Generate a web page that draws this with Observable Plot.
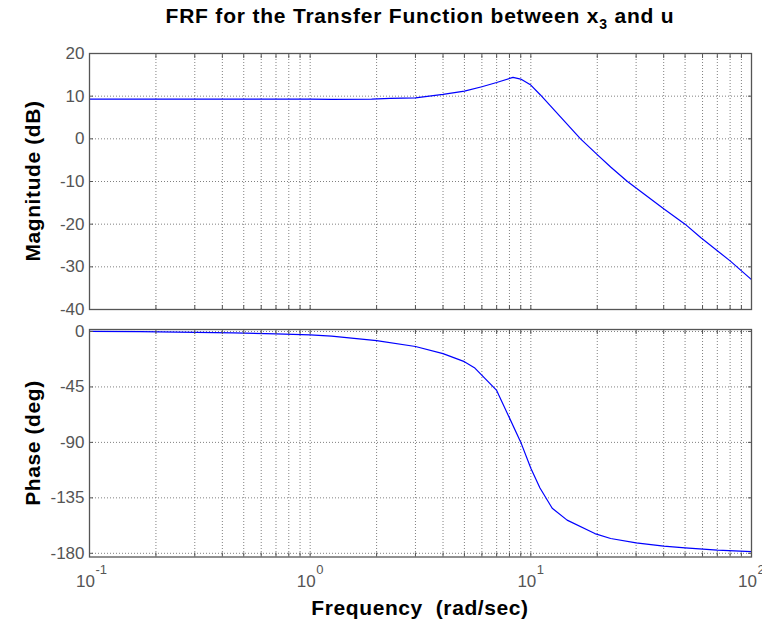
<!DOCTYPE html>
<html>
<head>
<meta charset="utf-8">
<script src="https://cdn.jsdelivr.net/npm/d3@7"></script>
<script src="https://cdn.jsdelivr.net/npm/@observablehq/plot@0.6"></script>
<style>
  html, body { margin: 0; padding: 0; background: #fff; }
  #chart { position: relative; width: 762px; height: 628px; overflow: hidden; font-family: Arial, "Liberation Sans", sans-serif; }
  #chart > svg { position: absolute; left: 0; }
  .lbl { position: absolute; font-weight: bold; color: #000; white-space: nowrap; }
  .ylbl { transform: translate(-50%, -50%) rotate(-90deg); font-size: 21px; letter-spacing: 0.6px; }
</style>
</head>
<body>
<div id="chart">
  <div class="lbl" style="left:89px;width:662px;top:4px;text-align:center;font-size:21px;letter-spacing:0.8px;">FRF for the Transfer Function between x<sub style="font-size:14px;vertical-align:-6px;">3</sub> and u</div>
  <div class="lbl ylbl" style="left:33px;top:181px;">Magnitude (dB)</div>
  <div class="lbl ylbl" style="left:33px;top:443px;">Phase (deg)</div>
  <div class="lbl" style="left:89px;width:662px;top:596px;text-align:center;font-size:21px;letter-spacing:0.6px;">Frequency&nbsp; (rad/sec)</div>
</div>
<script>
// ---- data ----
const magFreq = [0.1, 0.5, 1, 1.25, 1.9, 2.3, 3, 4, 5, 6, 7, 7.3, 8.3, 9, 10, 11, 16.8, 20, 23, 27.4, 40, 50, 59, 80, 100];
const magDb   = [9.3, 9.3, 9.3, 9.25, 9.3, 9.5, 9.6, 10.4, 11.2, 12.2, 13.2, 13.5, 14.4, 14.0, 12.6, 10.4, 0, -3.7, -6.6, -10, -16.4, -20, -23.2, -28.6, -33];

const phaseFreq = [0.1, 0.17, 0.25, 0.45, 0.7, 1, 1.25, 2, 3, 4, 5, 5.55, 7, 9, 10, 11, 12.5, 14.6, 19.5, 23, 30, 40, 50, 70, 100];
const phaseDeg  = [0, -0.1, -0.6, -1.2, -2.0, -2.8, -3.8, -7.4, -12.2, -18, -24.5, -29.4, -47.8, -89.8, -111, -127, -143.4, -153.1, -164, -168, -171.5, -174.2, -175.6, -177.4, -178.6];

const xGrid = [0.1, 0.2, 0.3, 0.4, 0.5, 0.6, 0.7, 0.8, 0.9,
               1, 2, 3, 4, 5, 6, 7, 8, 9,
               10, 20, 30, 40, 50, 60, 70, 80, 90, 100];
const decades = [0.1, 1, 10, 100];
const decadeExp = ["-1", "0", "1", "2"];

const magTicks = [20, 10, 0, -10, -20, -30, -40];
const magLabels = ["20", "10", "0", "-10", "-20", "-30", "-40"];
const phaseTicks = [0, -45, -90, -135, -180];
const phaseLabels = ["0", "-45", "-90", "-135", "-180"];

// ---- build ----
const magData = magFreq.map((f, i) => ({f, v: magDb[i]}));
const phaseData = phaseFreq.map((f, i) => ({f, v: phaseDeg[i]}));

const gridStyle = {stroke: "#808080", strokeOpacity: 1, strokeDasharray: "1,2"};
const tickStyle = {tickSize: -4, tickFormat: () => "", label: null, stroke: "#555", strokeOpacity: 1};
const textStyle = {tickSize: 0, label: null, fill: "#555", fontSize: 17};
const common = {
  width: 762, marginLeft: 89, marginRight: 11,
  style: {fontFamily: "Arial, 'Liberation Sans', sans-serif", background: "transparent", overflow: "visible"}
};

function panel(data, yDomain, yTicks, yLabels, height, mt, mb, bottomLabels) {
  const marks = [
    Plot.gridX({ticks: xGrid, ...gridStyle}),
    Plot.gridY({ticks: yTicks, ...gridStyle}),
    Plot.line(data, {x: "f", y: "v", stroke: "#0000ff", strokeWidth: 1.2}),
    Plot.frame({stroke: "#555", strokeWidth: 1.3}),
    Plot.axisX({anchor: "top", ticks: xGrid, ...tickStyle}),
    Plot.axisX({anchor: "bottom", ticks: xGrid, ...tickStyle}),
    Plot.axisY({anchor: "left", ticks: yTicks, ...tickStyle}),
    Plot.axisY({anchor: "right", ticks: yTicks, ...tickStyle}),
    Plot.axisY({anchor: "left", ticks: yTicks, ...textStyle, tickPadding: 5,
                tickFormat: d => yLabels[yTicks.indexOf(d)]})
  ];
  if (bottomLabels) {
    marks.push(
      Plot.axisX({anchor: "bottom", ticks: decades, ...textStyle, tickPadding: 18, dx: -4,
                  tickFormat: () => "10"}),
      Plot.axisX({anchor: "bottom", ticks: decades, ...textStyle, fontSize: 13, tickPadding: 8,
                  textAnchor: "start", dx: 6, tickFormat: d => decadeExp[decades.indexOf(d)]})
    );
  }
  return Plot.plot({
    ...common, height, marginTop: mt, marginBottom: mb,
    x: {type: "log", domain: [0.1, 100]},
    y: {domain: yDomain},
    marks
  });
}

const magPlot = panel(magData, [-40, 20], magTicks, magLabels, 320, 53, 11, false);
magPlot.style.top = "0px";
const phasePlot = panel(phaseData, [-183, 1.6], phaseTicks, phaseLabels, 308, 9, 71.5, true);
phasePlot.style.top = "320px";
const chart = document.getElementById("chart");
chart.appendChild(magPlot);
chart.appendChild(phasePlot);
</script>
</body>
</html>
